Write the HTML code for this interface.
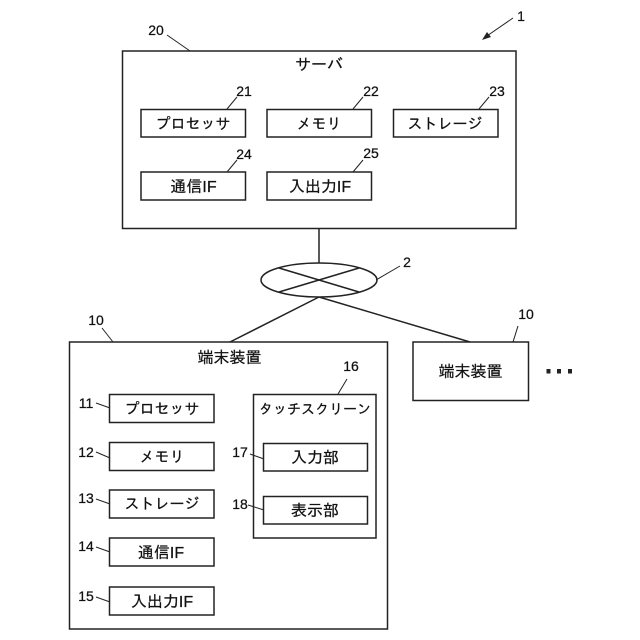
<!DOCTYPE html>
<html><head><meta charset="utf-8"><style>
html,body{margin:0;padding:0;background:#fff}
svg{display:block}
text{fill:#111;stroke:#111;stroke-width:.25px}
.j{font-family:"Liberation Sans","IPAGothic","Noto Sans CJK JP",sans-serif;font-size:15px;text-anchor:middle}
.k{font-family:"Liberation Sans","IPAGothic","Noto Sans CJK JP",sans-serif;font-size:16px;text-anchor:middle}
.s{font-family:"Liberation Sans","IPAGothic","Noto Sans CJK JP",sans-serif;font-size:14px;text-anchor:middle}
.n{font-family:"Liberation Sans",sans-serif;font-size:14px;text-anchor:middle}
rect,ellipse{fill:#fff;stroke:#222;stroke-width:1.5}
line{stroke:#222;stroke-width:1.5}
.t line{stroke-width:1}
</style></head><body>
<svg width="640" height="640" viewBox="0 0 640 640" xmlns="http://www.w3.org/2000/svg">
<line x1="319" y1="228" x2="319" y2="264"/>
<line x1="319" y1="297" x2="230" y2="342"/>
<line x1="319" y1="297" x2="470" y2="342"/>
<rect x="122.5" y="51" width="393.5" height="177.5"/>
<rect x="141" y="109.5" width="104.5" height="27.5"/>
<rect x="267" y="109.5" width="104.5" height="27.5"/>
<rect x="393.5" y="109.5" width="104.5" height="27.5"/>
<rect x="141" y="172" width="104.5" height="28"/>
<rect x="267" y="172" width="104.5" height="28"/>
<ellipse cx="319" cy="280" rx="58" ry="17"/>
<g style="stroke-width:1"><line x1="279" y1="268" x2="359" y2="292"/><line x1="359" y1="268" x2="279" y2="292"/></g>
<rect x="69.5" y="342" width="318" height="287"/>
<rect x="413" y="342" width="115.5" height="58.5"/>
<rect x="109.5" y="394.5" width="104.5" height="28"/>
<rect x="109.5" y="442.5" width="104.5" height="28"/>
<rect x="109.5" y="490" width="104.5" height="28"/>
<rect x="109.5" y="538" width="104.5" height="28"/>
<rect x="109.5" y="587" width="104.5" height="28"/>
<rect x="253.5" y="394.5" width="122.5" height="143.5"/>
<rect x="263.5" y="443.5" width="104" height="27.5"/>
<rect x="263.5" y="496.5" width="104" height="27.5"/>
<g class="t">
<line x1="167" y1="35" x2="190" y2="51"/>
<line x1="513" y1="18" x2="484" y2="38"/>
<line x1="237" y1="97" x2="227" y2="109"/>
<line x1="363" y1="97" x2="353" y2="109"/>
<line x1="489" y1="97" x2="479" y2="109"/>
<line x1="237" y1="160" x2="227" y2="172"/>
<line x1="363" y1="160" x2="353" y2="172"/>
<line x1="400" y1="266" x2="376" y2="280"/>
<line x1="102" y1="328" x2="113" y2="342"/>
<line x1="518" y1="326" x2="513" y2="342"/>
<line x1="347" y1="379" x2="338" y2="394"/>
<line x1="96" y1="403" x2="110" y2="408"/>
<line x1="96" y1="452" x2="110" y2="458"/>
<line x1="96" y1="499" x2="110" y2="504"/>
<line x1="96" y1="547" x2="110" y2="552"/>
<line x1="96" y1="597" x2="110" y2="602"/>
<line x1="250" y1="454" x2="264" y2="459"/>
<line x1="248" y1="505" x2="264" y2="510"/>
</g>
<polygon points="482,40 491,37 487,32" fill="#222"/>
<text class="k" x="319" y="70">サーバ</text>
<text class="j" x="193" y="129">プロセッサ</text>
<text class="j" x="319" y="129">メモリ</text>
<text class="j" x="445" y="129">ストレージ</text>
<text class="k" x="193.5" y="192">通信IF</text>
<text class="k" x="320" y="192">入出力IF</text>
<text class="k" x="229.5" y="363">端末装置</text>
<text class="k" x="470.5" y="377">端末装置</text>
<text class="j" x="162" y="414">プロセッサ</text>
<text class="j" x="162" y="462">メモリ</text>
<text class="j" x="162" y="509">ストレージ</text>
<text class="k" x="161" y="558">通信IF</text>
<text class="k" x="162" y="607">入出力IF</text>
<text class="s" x="315" y="414">タッチスクリーン</text>
<text class="k" x="315" y="463">入力部</text>
<text class="k" x="315" y="516">表示部</text>
<text class="n" x="521" y="21">1</text>
<text class="n" x="156" y="35">20</text>
<text class="n" x="244" y="96">21</text>
<text class="n" x="371" y="96">22</text>
<text class="n" x="497" y="96">23</text>
<text class="n" x="244" y="159">24</text>
<text class="n" x="371" y="158">25</text>
<text class="n" x="407" y="267">2</text>
<text class="n" x="96" y="325">10</text>
<text class="n" x="526" y="319">10</text>
<text class="n" x="351" y="371">16</text>
<text class="n" x="86" y="408">11</text>
<text class="n" x="86" y="457">12</text>
<text class="n" x="86" y="503">13</text>
<text class="n" x="86" y="551">14</text>
<text class="n" x="86" y="601">15</text>
<text class="n" x="240" y="457">17</text>
<text class="n" x="240" y="509">18</text>
<rect x="546.5" y="369" width="4" height="4.5" style="fill:#222;stroke:none"/>
<rect x="557" y="369" width="4" height="4.5" style="fill:#222;stroke:none"/>
<rect x="568" y="369" width="4" height="4.5" style="fill:#222;stroke:none"/>
</svg>
</body></html>
